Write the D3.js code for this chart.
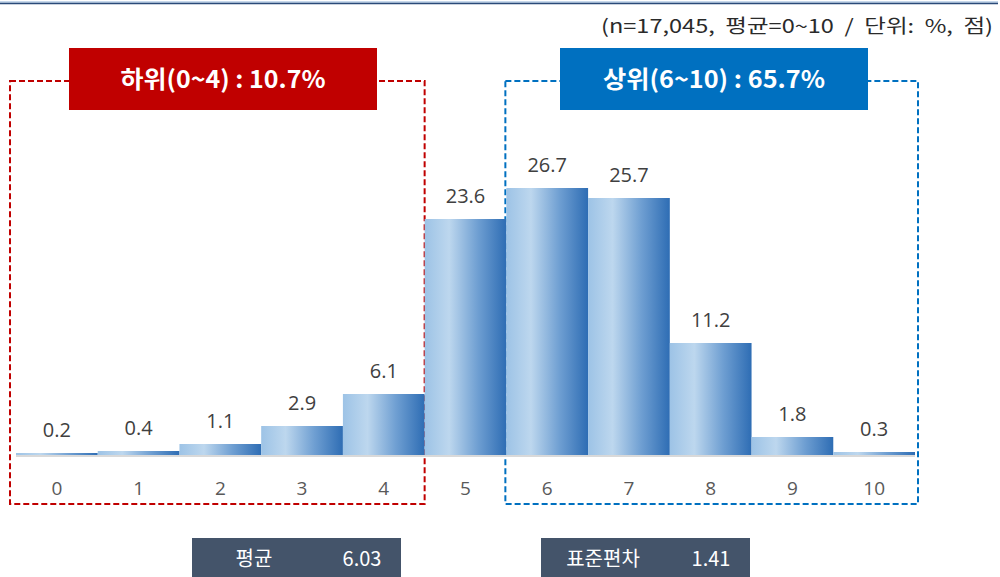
<!DOCTYPE html>
<html>
<head>
<meta charset="utf-8">
<script src="https://d3js.org/d3.v7.min.js"></script>
<style>
  body { margin: 0; background: #fff; }
  svg { display: block; font-family: "Noto Sans CJK KR", "Noto Sans", sans-serif; }
  .val { font-family: "Open Sans", "Noto Sans", sans-serif; font-size: 20px; fill: #404040; }
  .cat { font-family: "Open Sans", "Noto Sans", sans-serif; font-size: 19px; fill: #595959; }
  .sub { white-space: pre; }
</style>
</head>
<body>
<script>
// chart data
var categories = ["0", "1", "2", "3", "4", "5", "6", "7", "8", "9", "10"];
var shares = [0.2, 0.4, 1.1, 2.9, 6.1, 23.6, 26.7, 25.7, 11.2, 1.8, 0.3];
var subtitle = "(n=17,045,  평균=0~10  /  단위:  %,  점)";
var groups = [
  { label: "하위(0~4) : 10.7%", from: "0", to: "4", color: "#c00000" },
  { label: "상위(6~10) : 65.7%", from: "6", to: "10", color: "#0070c0" }
];
var stats = [
  { name: "평균", value: "6.03" },
  { name: "표준편차", value: "1.41" }
];

var W = 1000, H = 577;
var svg = d3.select("body").append("svg")
    .attr("width", W)
    .attr("height", H);

var defs = svg.append("defs");
var grad = defs.append("linearGradient")
    .attr("id", "barGrad")
    .attr("x1", "0%").attr("x2", "100%")
    .attr("y1", "0%").attr("y2", "0%");
grad.append("stop").attr("offset", "0%").attr("stop-color", "#9dc3e6");
grad.append("stop").attr("offset", "30%").attr("stop-color", "#bdd7ee");
grad.append("stop").attr("offset", "65%").attr("stop-color", "#6f9fd2");
grad.append("stop").attr("offset", "100%").attr("stop-color", "#2e6db4");

// top rule
svg.append("line").attr("x1", 0).attr("x2", 998).attr("y1", 2).attr("y2", 2)
    .attr("stroke", "#8fb1d8").attr("stroke-width", 1.2);
svg.append("line").attr("x1", 0).attr("x2", 998).attr("y1", 3.5).attr("y2", 3.5)
    .attr("stroke", "#2a4a78").attr("stroke-width", 1.5);

svg.append("text")
    .attr("class", "sub")
    .attr("x", 993).attr("y", 33)
    .attr("text-anchor", "end")
    .attr("font-size", 19)
    .attr("fill", "#2a2a2a")
    .attr("textLength", 392)
    .attr("lengthAdjust", "spacingAndGlyphs")
    .text(subtitle);

var x = d3.scaleBand()
    .domain(categories)
    .range([16, 915])
    .padding(0);

var baseY = 455;
var y = d3.scaleLinear()
    .domain([0, 30])
    .range([baseY, baseY - 300]);

// frame and header geometry (left pad, right pad, header box x)
var framePad = [[6, 0], [1, 3]];
var headX = [69, 560];

// dashed group frames
groups.forEach(function(g, i) {
  var x0 = x(g.from) - framePad[i][0], x1 = x(g.to) + x.bandwidth() + framePad[i][1];
  svg.append("rect")
      .attr("x", x0).attr("y", 81)
      .attr("width", x1 - x0).attr("height", 504 - 81)
      .attr("fill", "none")
      .attr("stroke", g.color)
      .attr("stroke-width", 2)
      .attr("stroke-dasharray", "6,3");
});

// bars
svg.selectAll("rect.bar")
    .data(shares)
    .enter()
    .append("rect")
    .attr("class", "bar")
    .attr("x", function(d, i) { return x(categories[i]); })
    .attr("width", x.bandwidth())
    .attr("y", function(d) { return y(d); })
    .attr("height", function(d) { return y(0) - y(d); })
    .attr("fill", "url(#barGrad)");

// baseline
svg.append("line")
    .attr("x1", 16).attr("x2", 915)
    .attr("y1", baseY + 1).attr("y2", baseY + 1)
    .attr("stroke", "#d9d9d9").attr("stroke-width", 2);

// value labels
svg.selectAll("text.val")
    .data(shares)
    .enter()
    .append("text")
    .attr("class", "val")
    .attr("text-anchor", "middle")
    .attr("x", function(d, i) { return x(categories[i]) + x.bandwidth() / 2; })
    .attr("y", function(d) { return y(d) - 16; })
    .text(function(d) { return d.toFixed(1); });

// category axis labels
var xAxis = d3.axisBottom(x).tickSize(0).tickPadding(0);
var ax = svg.append("g")
    .attr("transform", "translate(0," + (baseY + 40) + ")")
    .call(xAxis);
ax.select(".domain").remove();
ax.selectAll("text")
    .attr("class", "cat")
    .attr("dy", 0)
    .attr("font-size", null)
    .attr("font-family", null)
    .attr("fill", null);

// group headers
groups.forEach(function(g, i) {
  svg.append("rect")
      .attr("x", headX[i]).attr("y", 48)
      .attr("width", 308).attr("height", 62)
      .attr("fill", g.color);
  svg.append("text")
      .attr("x", headX[i] + 154).attr("y", 88)
      .attr("text-anchor", "middle")
      .attr("font-size", 24)
      .attr("font-weight", "bold")
      .attr("fill", "#fff")
      .attr("textLength", i === 0 ? 205 : 222)
      .attr("lengthAdjust", "spacingAndGlyphs")
      .text(g.label);
});

// statistics boxes
var statX = [192, 541];
stats.forEach(function(s, i) {
  var bx = statX[i];
  svg.append("rect")
      .attr("x", bx).attr("y", 538)
      .attr("width", 209).attr("height", 39)
      .attr("fill", "#44546a");
  svg.append("text")
      .attr("x", bx + 62).attr("y", 566)
      .attr("text-anchor", "middle")
      .attr("font-size", 20)
      .attr("fill", "#fff")
      .text(s.name);
  svg.append("text")
      .attr("x", bx + 170).attr("y", 566)
      .attr("text-anchor", "middle")
      .attr("font-size", 20)
      .attr("fill", "#fff")
      .text(s.value);
});
</script>
</body>
</html>
